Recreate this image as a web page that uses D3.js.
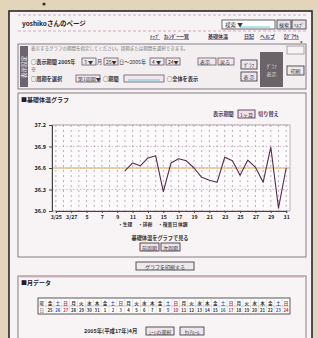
<!DOCTYPE html>
<html><head><meta charset="utf-8">
<script src="https://cdn.jsdelivr.net/npm/d3@7"></script>
<style>
html,body{margin:0;padding:0;background:#e2d5ba;}
svg{display:block;font-family:"Noto Sans CJK JP","Noto Sans",sans-serif;}
</style></head><body>
<svg id="c" width="318" height="338"></svg>
<script>
// ---- data ----
const days = d3.range(1, 32);                       // cycle days 1..31
const tempDays = d3.range(10, 32);                  // days with readings
const temps = [36.56,36.67,36.63,36.74,36.77,36.27,36.67,36.73,36.70,36.60,36.47,
               36.43,36.40,36.75,36.70,36.50,36.71,36.61,36.40,36.89,36.04,36.60];
const coverLine = 36.6;
const yTicks = [36.0, 36.3, 36.6, 36.9, 37.2];
const xLabelDays = [1,3,5,7,9,11,13,15,17,19,21,23,25,27,29,31];
const xLabels = ["3/25","3/27","5","7","9","11","13","15","17","19","21","23","25","27","29","31"];
const markLabels = ["・生理","・排卵","・検査日","体調"];
const weekChars = ["金","土","日","月","火","水","木","金","土","日","月","火","水","木","金","土","日","月","火","水","木","金","土","日","月","火","水","木","金","土","日"];
const monthDays = [25,26,27,28,29,30,31,1,2,3,4,5,6,7,8,9,10,11,12,13,14,15,16,17,18,19,20,21,22,23,24];

const svg = d3.select("#c");
const F = "Noto Sans CJK JP";
// page
svg.append("rect").attr("x",0).attr("y",0).attr("width",318).attr("height",338).attr("fill","#e2d5ba");
svg.append("rect").attr("x",9).attr("y",11).attr("width",303).attr("height",335)
  .attr("fill","#f7f2f3").attr("stroke","#2a2a2a").attr("stroke-width",1.6);
svg.append("circle").attr("cx",44).attr("cy",4).attr("r",1.6).attr("fill","#333");

// header
svg.append("line").attr("x1",18).attr("x2",306).attr("y1",15).attr("y2",15).attr("stroke","#d9a8c0").attr("stroke-dasharray","3,2");
svg.append("text").attr("x",22).attr("y",26).attr("font-size",6.5).attr("font-weight","bold").attr("fill","#2a1a2a").text("yoshikoさんのページ");
svg.append("rect").attr("x",222).attr("y",20).attr("width",53).attr("height",9).attr("fill","#fff").attr("stroke","#555").attr("stroke-width",0.9);
svg.append("line").attr("x1",240).attr("x2",270).attr("y1",27).attr("y2",27).attr("stroke","#6cc6d0");
svg.append("text").attr("x",225).attr("y",27).attr("font-size",5.5).attr("fill","#333").text("検索 ▼");
[[277,"検索"],[292,"ﾍﾙﾌﾟ"]].forEach(([x,t])=>{
  svg.append("rect").attr("x",x).attr("y",20).attr("width",14).attr("height",9).attr("fill","#e8e4ea").attr("stroke","#444").attr("stroke-width",0.9);
  svg.append("text").attr("x",x+7).attr("y",27).attr("text-anchor","middle").attr("font-size",5).attr("fill","#333").text(t);
});
svg.append("line").attr("x1",18).attr("x2",306).attr("y1",31).attr("y2",31).attr("stroke","#d9a8c0").attr("stroke-dasharray","3,2");
const nav = [[150,"ﾄｯﾌﾟ"],[164,"ｶﾚﾝﾀﾞｰ一覧"],[208,"基礎体温"],[244,"日記"],[260,"ヘルプ"],[284,"ﾛｸﾞｱｳﾄ"]];
nav.forEach(([x,t])=>svg.append("text").attr("x",x).attr("y",38).attr("font-size",5).attr("font-weight","bold").attr("fill","#4a3a5a").attr("text-decoration","underline").text(t));

// form box
svg.append("rect").attr("x",18).attr("y",44).attr("width",288).attr("height",45).attr("fill","#f3eef0").attr("stroke","#7a6f7a").attr("stroke-width",0.9);
svg.append("rect").attr("x",20).attr("y",46).attr("width",8).attr("height",41).attr("fill","#6e6470");
svg.append("text").attr("transform","translate(26,67) rotate(-90)").attr("text-anchor","middle").attr("font-size",5.5).attr("fill","#fff").text("表示設定");
svg.append("text").attr("x",31).attr("y",50).attr("font-size",4.5).attr("fill","#777").text("表示するグラフの期間を指定してください。周期または期間を選択できます。");
svg.append("text").attr("x",31).attr("y",64).attr("font-size",5.2).attr("font-weight","bold").attr("fill","#333").text("○表示期間 2005年");
const inp=(x,y,w,t)=>{svg.append("rect").attr("x",x).attr("y",y).attr("width",w).attr("height",7).attr("fill","#f0e8ec").attr("stroke","#6a5a6a").attr("stroke-width",0.8);
  svg.append("text").attr("x",x+2).attr("y",y+5.5).attr("font-size",5).attr("fill","#333").text(t);};
inp(82,58,14,"3 ▼");svg.append("text").attr("x",97).attr("y",64).attr("font-size",5.2).attr("fill","#333").text("月");
inp(104,58,14,"25▼");svg.append("text").attr("x",119).attr("y",64).attr("font-size",5.2).attr("fill","#333").text("日～2005年");
inp(150,58,14,"4 ▼");inp(166,58,14,"24▼");
inp(198,58,18,"表示");inp(218,58,16,"戻る");
svg.append("text").attr("x",31).attr("y",71).attr("font-size",5).attr("fill","#333").text("※");
svg.append("text").attr("x",31).attr("y",81).attr("font-size",5.2).attr("font-weight","bold").attr("fill","#333").text("○周期を選択");
inp(76,75,24,"第1周期▼");
svg.append("text").attr("x",103).attr("y",81).attr("font-size",5.2).attr("font-weight","bold").attr("fill","#333").text("○期間");
inp(124,75,40,"");svg.append("line").attr("x1",128).attr("x2",160).attr("y1",80).attr("y2",80).attr("stroke","#6cc6d0");
svg.append("text").attr("x",167).attr("y",81).attr("font-size",5.2).attr("font-weight","bold").attr("fill","#333").text("○全体を表示");
[[241,60,"ｸﾞﾗﾌ"],[241,72,"表 示"]].forEach(([x,y,t])=>{
  svg.append("rect").attr("x",x).attr("y",y).attr("width",16).attr("height",9).attr("fill","#eee6ee").attr("stroke","#444").attr("stroke-width",0.9);
  svg.append("text").attr("x",x+8).attr("y",y+6.5).attr("text-anchor","middle").attr("font-size",5).attr("fill","#333").text(t);});
svg.append("rect").attr("x",260).attr("y",52).attr("width",23).attr("height",35).attr("fill","#6a6468");
svg.append("text").attr("x",271.5).attr("y",68).attr("text-anchor","middle").attr("font-size",5).attr("fill","#ddd").text("ｸﾞﾗﾌ");
svg.append("text").attr("x",271.5).attr("y",76).attr("text-anchor","middle").attr("font-size",5).attr("fill","#ddd").text("表示");
svg.append("rect").attr("x",287).attr("y",66).attr("width",17).attr("height",9).attr("fill","#eee8ee").attr("stroke","#444").attr("stroke-width",0.9);
svg.append("text").attr("x",295.5).attr("y",72.5).attr("text-anchor","middle").attr("font-size",5).attr("fill","#333").text("印刷");
svg.append("rect").attr("x",287).attr("y",46).attr("width",17).attr("height",8).attr("fill","#f7f2f3").attr("stroke","#888").attr("stroke-width",0.7);
svg.append("text").attr("x",300).attr("y",45).attr("font-size",5).attr("font-weight","bold").attr("fill","#222").text("*");

// graph section
svg.append("rect").attr("x",18).attr("y",93).attr("width",288).attr("height",164).attr("fill","#f8f4f5").attr("stroke","#7a7078").attr("stroke-width",0.9);
svg.append("text").attr("x",21).attr("y",102).attr("font-size",6).attr("font-weight","bold").attr("fill","#2a1a2a").text("■基礎体温グラフ");
svg.append("text").attr("x",213).attr("y",116).attr("font-size",5.2).attr("font-weight","bold").attr("fill","#4a3a6a").text("表示期間");
svg.append("rect").attr("x",238).attr("y",110).attr("width",17).attr("height",8).attr("fill","#f0e0ea").attr("stroke","#5a3a5a").attr("stroke-width",0.9);
svg.append("text").attr("x",246.5).attr("y",116.5).attr("text-anchor","middle").attr("font-size",5).attr("fill","#333").text("1ヶ月");
svg.append("text").attr("x",258).attr("y",116).attr("font-size",5.2).attr("font-weight","bold").attr("fill","#4a3a6a").text("切り替え");

const M = {l:52, r:290, t:125, b:211};
const x = d3.scaleBand().domain(days).range([M.l, M.r]);
const y = d3.scaleLinear().domain([36.0, 37.2]).range([M.b, M.t]);
const cx = d => x(d) + x.bandwidth()/2;
const g = svg.append("g");
g.append("rect").attr("x",M.l).attr("y",M.t).attr("width",M.r-M.l).attr("height",M.b-M.t).attr("fill","#fdfbfc").attr("stroke","#9a8e98").attr("stroke-width",0.7);
g.selectAll(".vg").data(days).join("line").attr("x1",d=>cx(d)).attr("x2",d=>cx(d)).attr("y1",M.t).attr("y2",M.b)
  .attr("stroke","#8c7e90").attr("stroke-width",0.6).attr("stroke-dasharray","2,3");
g.selectAll(".hg").data(yTicks).join("line").attr("x1",M.l).attr("x2",M.r).attr("y1",d=>y(d)).attr("y2",d=>y(d))
  .attr("stroke","#c08aa8").attr("stroke-width",0.6).attr("stroke-dasharray","1.5,2");
g.append("line").attr("x1",M.l).attr("x2",M.r).attr("y1",y(coverLine)).attr("y2",y(coverLine)).attr("stroke","#e3a24a").attr("stroke-width",0.9);
const yAxis = g.append("g").attr("transform",`translate(${M.l},0)`).call(d3.axisLeft(y).tickValues(yTicks).tickFormat(d3.format(".1f")).tickSize(3));
yAxis.select(".domain").attr("stroke","#444");
yAxis.selectAll("line").attr("stroke","#444");
yAxis.selectAll("text").attr("font-size",5.5).attr("font-weight","bold").attr("fill","#222").attr("font-family",F);
const xAxis = g.append("g").attr("transform",`translate(0,${M.b})`)
  .call(d3.axisBottom(d3.scalePoint().domain(xLabelDays).range([cx(1), cx(31)])).tickFormat((d,i)=>xLabels[i]).tickSize(2));
xAxis.select(".domain").attr("stroke","#444");
xAxis.selectAll("line").attr("stroke","#444");
xAxis.selectAll("text").attr("font-size",5.2).attr("font-weight","bold").attr("fill","#222").attr("font-family",F).attr("dy","0.6em");
const line = d3.line().x((d,i)=>cx(tempDays[i])).y(d=>y(d));
g.append("path").datum(temps).attr("d",line).attr("fill","none").attr("stroke","#5a2a4c").attr("stroke-width",1.1).attr("stroke-linejoin","round");
markLabels.forEach((t,i)=>svg.append("text").attr("x",118+i*20).attr("y",226).attr("font-size",4.8).attr("font-weight","bold").attr("fill","#333").text(t));
svg.append("text").attr("x",160).attr("y",240).attr("text-anchor","middle").attr("font-size",5.2).attr("font-weight","bold").attr("fill","#333").text("基礎体温をグラフで見る");
[[140,"前周期"],[161,"次周期"]].forEach(([xx,t])=>{
  svg.append("rect").attr("x",xx).attr("y",243).attr("width",19).attr("height",8).attr("fill","#f0e4ec").attr("stroke","#4a3a4a").attr("stroke-width",0.9);
  svg.append("text").attr("x",xx+9.5).attr("y",249.5).attr("text-anchor","middle").attr("font-size",5).attr("fill","#333").text(t);});
svg.append("rect").attr("x",136).attr("y",262).attr("width",58).attr("height",8).attr("fill","#efe8ee").attr("stroke","#444").attr("stroke-width",0.9);
svg.append("text").attr("x",165).attr("y",268.5).attr("text-anchor","middle").attr("font-size",5).attr("fill","#333").text("グラフを印刷する");

// month data section
svg.append("rect").attr("x",18).attr("y",276).attr("width",288).attr("height",70).attr("fill","#f8f4f5").attr("stroke","#7a7078").attr("stroke-width",0.9);
svg.append("line").attr("x1",20).attr("x2",304).attr("y1",277).attr("y2",277).attr("stroke","#d99ab8").attr("stroke-width",0.8);
svg.append("text").attr("x",21).attr("y",285).attr("font-size",6).attr("font-weight","bold").attr("fill","#2a1a2a").text("■月データ");
const tx = d3.scaleBand().domain(d3.range(31)).range([46,290]);
svg.append("rect").attr("x",38).attr("y",298).attr("width",252).attr("height",16).attr("fill","#fff").attr("stroke","#444").attr("stroke-width",0.9);
svg.append("text").attr("x",39.5).attr("y",304.5).attr("font-size",4.5).attr("fill","#333").text("曜");
svg.append("text").attr("x",39.5).attr("y",312).attr("font-size",4.5).attr("fill","#333").text("日");
svg.append("line").attr("x1",38).attr("x2",290).attr("y1",306).attr("y2",306).attr("stroke","#999").attr("stroke-width",0.5);
const col = c => c==="日" ? "#c03040" : c==="土" ? "#3050c0" : "#333";
svg.selectAll(".wk").data(weekChars).join("text").attr("x",(d,i)=>tx(i)+tx.bandwidth()/2).attr("y",304.5)
  .attr("text-anchor","middle").attr("font-size",4.6).attr("font-weight","bold").attr("fill",d=>col(d)).text(d=>d);
svg.selectAll(".md").data(monthDays).join("text").attr("x",(d,i)=>tx(i)+tx.bandwidth()/2).attr("y",312)
  .attr("text-anchor","middle").attr("font-size",4.3).attr("font-weight","bold").attr("fill",(d,i)=>col(weekChars[i])).text(d=>d);
svg.selectAll(".tl").data(d3.range(32)).join("line").attr("x1",d=>46+d*tx.bandwidth()).attr("x2",d=>46+d*tx.bandwidth())
  .attr("y1",298).attr("y2",314).attr("stroke","#bbb").attr("stroke-width",0.4);
svg.append("text").attr("x",84).attr("y",333).attr("font-size",5.4).attr("font-weight","bold").attr("fill","#333").text("2005年(平成17年)4月");
[[146,"ｼｰﾄの選択",28],[180,"ｸﾘｱﾙｰﾙ",24]].forEach(([xx,t,w])=>{
  svg.append("rect").attr("x",xx).attr("y",327).attr("width",w).attr("height",8).attr("fill","#eee6ee").attr("stroke","#444").attr("stroke-width",0.9);
  svg.append("text").attr("x",xx+w/2).attr("y",333.5).attr("text-anchor","middle").attr("font-size",5).attr("fill","#333").text(t);});
</script></body></html>
